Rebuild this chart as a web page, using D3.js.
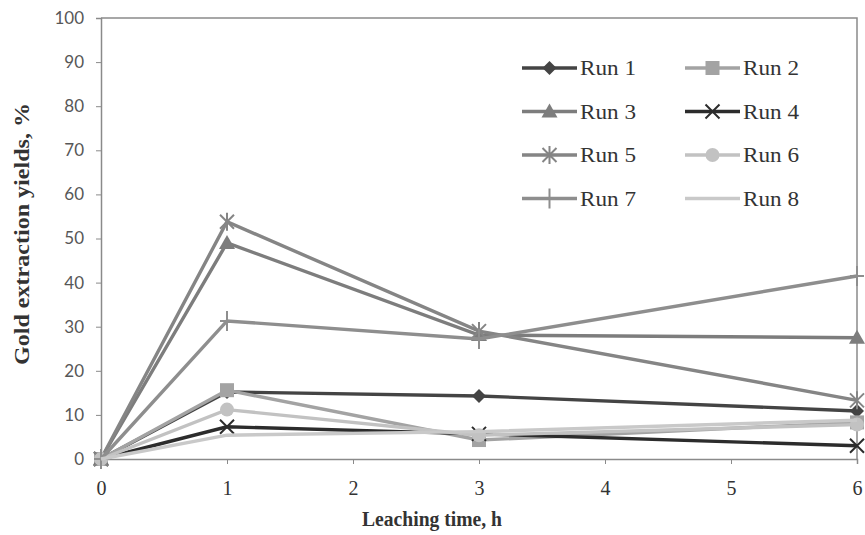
<!DOCTYPE html>
<html>
<head>
<meta charset="utf-8">
<script src="https://cdn.jsdelivr.net/npm/d3@7"></script>
<style>
  html, body { margin: 0; padding: 0; background: #fff; }
  svg { display: block; }
</style>
</head>
<body>
<svg id="chart" width="865" height="535"></svg>
<script>
// Leaching time (h) and gold extraction yields (%) per run
const leachTimes = [0, 1, 3, 6];
const run1 = [0, 15.2, 14.3, 10.9];
const run2 = [0, 15.6, 4.3, 8.3];
const run3 = [0, 49.0, 28.1, 27.5];
const run4 = [0, 7.3, 5.7, 3.0];
const run5 = [0, 53.8, 29.0, 13.3];
const run6 = [0, 11.2, 5.4, 7.8];
const run7 = [0, 31.3, 27.2, 41.5];
const run8 = [0, 5.4, 6.2, 8.8];
const runNames = ["Run 1", "Run 2", "Run 3", "Run 4", "Run 5", "Run 6", "Run 7", "Run 8"];
const yTicks = [0, 10, 20, 30, 40, 50, 60, 70, 80, 90, 100];
const xTicks = [0, 1, 2, 3, 4, 5, 6];

const runValues = [run1, run2, run3, run4, run5, run6, run7, run8];
const runColors = ["#444444", "#a3a3a3", "#7d7d7d", "#2c2c2c", "#858585", "#c2c2c2", "#8e8e8e", "#c9c9c9"];
const runMarkers = ["diamond", "square", "triangle", "x", "asterisk", "circle", "plus", "none"];

const serif = "'Liberation Serif', 'DejaVu Serif', serif";
const svg = d3.select("#chart");
const plotLeft = 101, plotRight = 857, plotTop = 18, plotBottom = 459;

const x = d3.scaleLinear().domain([0, 6]).range([plotLeft, plotRight]);
const y = d3.scaleLinear().domain([0, 100]).range([plotBottom, plotTop]);

// plot area frame (top and right)
svg.append("path")
  .attr("d", `M${plotLeft},${plotTop}H${plotRight}V${plotBottom}`)
  .attr("fill", "none").attr("stroke", "#8a8a8a").attr("stroke-width", 1.5);

// y axis
const yAxis = svg.append("g").attr("transform", `translate(${plotLeft},0)`)
  .call(d3.axisLeft(y).tickValues(yTicks).tickSize(5).tickPadding(12).tickFormat(d3.format("d")));
yAxis.attr("font-family", null).attr("font-size", null);
yAxis.select(".domain").attr("stroke", "#8a8a8a").attr("stroke-width", 1.5);
yAxis.selectAll(".tick line").attr("stroke", "#8a8a8a");
yAxis.selectAll("text").attr("fill", "#575757")
  .style("font-family", "Lato, 'Open Sans', sans-serif").style("font-size", "17px");

// x axis
const xAxis = svg.append("g").attr("transform", `translate(0,${plotBottom})`)
  .call(d3.axisBottom(x).tickValues(xTicks).tickSize(5).tickPadding(17).tickFormat(d3.format("d")));
xAxis.attr("font-family", null).attr("font-size", null);
xAxis.select(".domain").attr("stroke", "#8a8a8a").attr("stroke-width", 1.5);
xAxis.selectAll(".tick line").attr("stroke", "#8a8a8a");
xAxis.selectAll("text").attr("fill", "#333")
  .style("font-family", serif).style("font-size", "20px");

// axis titles
svg.append("text")
  .attr("x", 432).attr("y", 526).attr("text-anchor", "middle")
  .attr("textLength", 140).attr("lengthAdjust", "spacingAndGlyphs")
  .style("font-family", serif).style("font-size", "20px").style("font-weight", "bold")
  .attr("fill", "#333").text("Leaching time, h");
svg.append("text")
  .attr("transform", "translate(29,234) rotate(-90)").attr("text-anchor", "middle")
  .attr("textLength", 262).attr("lengthAdjust", "spacingAndGlyphs")
  .style("font-family", serif).style("font-size", "20px").style("font-weight", "bold")
  .attr("fill", "#333").text("Gold extraction yields, %");

// marker drawing
function drawMarker(g, type, color) {
  switch (type) {
    case "diamond":
      g.append("path").attr("d", "M0,-7L7,0L0,7L-7,0Z").attr("fill", color); break;
    case "square":
      g.append("rect").attr("x", -7).attr("y", -7).attr("width", 14).attr("height", 14).attr("fill", color); break;
    case "triangle":
      g.append("path").attr("d", "M0,-8L8,6L-8,6Z").attr("fill", color); break;
    case "circle":
      g.append("circle").attr("r", 7).attr("fill", color); break;
    case "x":
      g.append("path").attr("d", "M-7,-7L7,7M-7,7L7,-7").attr("stroke", color).attr("stroke-width", 2); break;
    case "asterisk":
      g.append("path").attr("d", "M-7,-7L7,7M-7,7L7,-7M0,-9V9").attr("stroke", color).attr("stroke-width", 2); break;
    case "plus":
      g.append("path").attr("d", "M0,-10V10M-7,0H7").attr("stroke", color).attr("stroke-width", 2); break;
    default: break;
  }
}

const line = d3.line().x((d, i) => x(leachTimes[i])).y(d => y(d));

// series lines and markers
runValues.forEach((vals, k) => {
  const g = svg.append("g");
  g.append("path").datum(vals).attr("d", line)
    .attr("fill", "none").attr("stroke", runColors[k]).attr("stroke-width", 3.4);
  vals.forEach((v, i) => {
    const m = g.append("g").attr("transform", `translate(${x(leachTimes[i])},${y(v)})`);
    drawMarker(m, runMarkers[k], runColors[k]);
  });
});

// legend
const legend = svg.append("g");
runNames.forEach((name, k) => {
  const col = k % 2, row = Math.floor(k / 2);
  const lx = 522 + col * 163, ly = 68 + row * 43.5;
  const g = legend.append("g").attr("transform", `translate(${lx},${ly})`);
  g.append("line").attr("x1", 0).attr("x2", 55).attr("y1", 0).attr("y2", 0)
    .attr("stroke", runColors[k]).attr("stroke-width", 3.4);
  const m = g.append("g").attr("transform", "translate(27.5,0)");
  drawMarker(m, runMarkers[k], runColors[k]);
  g.append("text").attr("x", 58).attr("y", 7)
    .attr("textLength", 56).attr("lengthAdjust", "spacingAndGlyphs")
    .style("font-family", serif).style("font-size", "20px")
    .attr("fill", "#333").text(name);
});
</script>
</body>
</html>
